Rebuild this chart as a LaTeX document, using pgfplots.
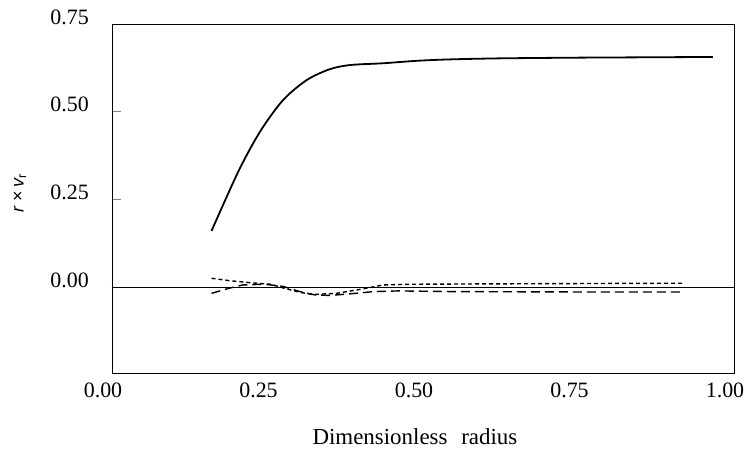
\documentclass[border=0pt]{standalone}
\usepackage{fontspec}
\setmainfont{Liberation Serif}
\setsansfont{Liberation Sans}
\usepackage{pgfplots}
\pgfplotsset{compat=1.18}
\begin{document}
\begin{tikzpicture}[x=1bp,y=1bp]
\path[use as bounding box] (-112,-77) rectangle (637,373);
\begin{axis}[
  at={(0,0)}, anchor=south west,
  scale only axis, width=622bp, height=349bp,
  xmin=0, xmax=1, ymin=-0.245, ymax=0.75,
  axis line style={line width=0.9bp},
  xtick={0,0.25,0.5,0.75,1}, xticklabels={0.00,0.25,0.50,0.75,1.00},
  ytick={0,0.25,0.5,0.75}, yticklabels={0.00,0.25,0.50,0.75},
  xtick style={draw=none},
  ytick style={line width=0.9bp},
  ytick pos=left, tick align=inside, major tick length=9bp,
  ticklabel style={font=\fontsize{22}{26}\selectfont, inner sep=0pt},
  xticklabel style={anchor=north, yshift=-10bp, xshift=-9bp},
  yticklabel style={anchor=east, xshift=-23bp, yshift=7bp},
  xlabel={Dimensionless\hspace{0.35em} radius},
  xlabel style={at={(axis description cs:0.487,-0.183)}, anchor=center, inner sep=0pt, font=\fontsize{23}{27}\selectfont},
  ylabel={{\sffamily\itshape r} {\sffamily ×} {\sffamily\itshape v}{\sffamily\textsubscript{r}}},
  ylabel style={at={(axis description cs:-0.148,0.516)}, anchor=center, inner sep=0pt, font=\fontsize{18}{22}\selectfont},
]
\addplot[line width=0.8bp] coordinates {(0,0) (1,0)};
\addplot[line width=1.8bp, smooth] coordinates {
(0.160,0.160) (0.203,0.329) (0.238,0.443) (0.275,0.533) (0.313,0.590)
(0.350,0.621) (0.383,0.633) (0.436,0.638) (0.490,0.645) (0.543,0.649)
(0.624,0.652) (0.750,0.654) (0.860,0.655) (0.966,0.656)};
\addplot[line width=1.4bp, dash pattern=on 4bp off 3bp] coordinates {
(0.160,0.025) (0.190,0.018) (0.225,0.012) (0.255,0.008) (0.280,-0.005)
(0.305,-0.016) (0.325,-0.021) (0.361,-0.018) (0.404,-0.005) (0.436,0.006)
(0.480,0.008) (0.600,0.009) (0.750,0.010) (0.918,0.011)};
\addplot[line width=1.4bp, dash pattern=on 9bp off 5bp] coordinates {
(0.160,-0.018) (0.185,-0.005) (0.210,0.006) (0.245,0.008) (0.275,0.002)
(0.300,-0.012) (0.325,-0.022) (0.350,-0.024) (0.385,-0.019) (0.420,-0.013)
(0.460,-0.011) (0.550,-0.013) (0.750,-0.014) (0.913,-0.014)};
\end{axis}
\end{tikzpicture}
\end{document}
